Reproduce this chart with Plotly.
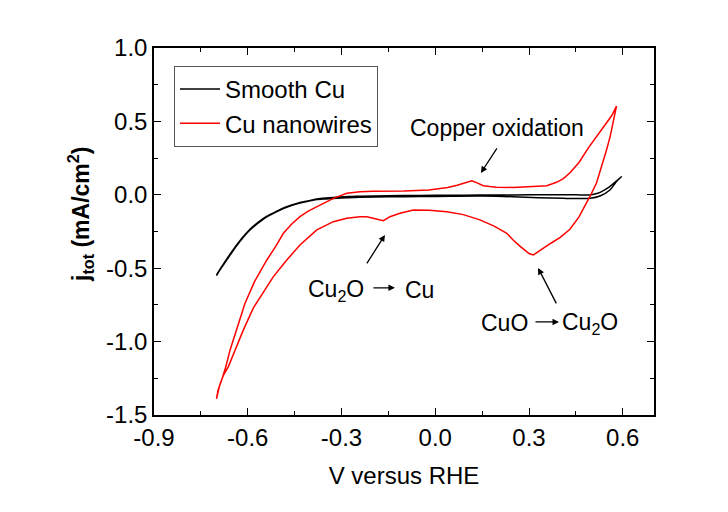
import plotly.graph_objects as go

# Smooth Cu (closed CV loop): from -0.70 V up to 0.59 V and back
smooth_v = [-0.70, -0.685, -0.665, -0.646, -0.62, -0.593, -0.565, -0.539, -0.51, -0.486, -0.46, -0.433,
            -0.40, -0.379, -0.35, -0.326, -0.28, -0.241, -0.15, -0.05, 0.05, 0.143, 0.25, 0.35, 0.45,
            0.495, 0.52, 0.538, 0.555, 0.575, 0.596,
            0.58, 0.559, 0.527, 0.495, 0.45, 0.409, 0.33, 0.249, 0.143, 0.05, -0.05, -0.15, -0.241,
            -0.28, -0.326, -0.35, -0.379, -0.40, -0.433, -0.46, -0.486, -0.51, -0.539, -0.565, -0.593,
            -0.62, -0.646, -0.665, -0.685, -0.70]
smooth_j = [-0.545, -0.495, -0.43, -0.372, -0.30, -0.235, -0.185, -0.146, -0.115, -0.09, -0.07, -0.052,
            -0.038, -0.029, -0.022, -0.018, -0.012, -0.01, -0.006, -0.004, -0.003, -0.002, -0.001, 0.0, 0.0,
            -0.001, 0.01, 0.028, 0.05, 0.085, 0.124,
            0.09, 0.033, -0.008, -0.024, -0.026, -0.024, -0.02, -0.013, -0.008, -0.01, -0.012, -0.014, -0.017,
            -0.02, -0.025, -0.028, -0.032, -0.04, -0.056, -0.073, -0.094, -0.118, -0.15, -0.19, -0.24,
            -0.305, -0.378, -0.437, -0.50, -0.55]

# Cu nanowires: anodic branch (left to right)
nw_anodic_v = [-0.70, -0.695, -0.683, -0.67, -0.657, -0.635, -0.609, -0.578, -0.56, -0.539, -0.51, -0.486,
               -0.46, -0.433, -0.405, -0.379, -0.35, -0.326, -0.283, -0.241, -0.20, -0.10, -0.02, 0.04,
               0.07, 0.10, 0.117, 0.132, 0.154, 0.175, 0.196, 0.25, 0.303, 0.357, 0.388, 0.41, 0.431,
               0.46, 0.49, 0.52, 0.549, 0.565, 0.58]
nw_anodic_j = [-1.39, -1.33, -1.26, -1.17, -1.06, -0.92, -0.74, -0.59, -0.52, -0.444, -0.35, -0.262,
               -0.20, -0.149, -0.11, -0.081, -0.05, -0.024, 0.01, 0.021, 0.025, 0.026, 0.033, 0.05,
               0.065, 0.085, 0.095, 0.083, 0.062, 0.056, 0.052, 0.05, 0.054, 0.062, 0.085, 0.11, 0.15,
               0.22, 0.32, 0.41, 0.49, 0.54, 0.605]
# Cu nanowires: cathodic branch (right to left)
nw_cathodic_v = [0.57, 0.56, 0.548, 0.532, 0.516, 0.50, 0.484, 0.46, 0.431, 0.40, 0.37, 0.343, 0.325, 0.314,
                 0.30, 0.285, 0.271, 0.25, 0.229, 0.19, 0.143, 0.09, 0.037, -0.02, -0.07, -0.113, -0.145,
                 -0.166, -0.187, -0.219, -0.241, -0.283, -0.326, -0.379, -0.433, -0.475, -0.518, -0.55,
                 -0.582, -0.614, -0.646, -0.662, -0.678, -0.689, -0.70]
nw_cathodic_j = [0.50, 0.40, 0.305, 0.19, 0.08, 0.01, -0.058, -0.15, -0.235, -0.29, -0.33, -0.37, -0.395,
                 -0.41, -0.40, -0.375, -0.35, -0.31, -0.262, -0.215, -0.171, -0.135, -0.115, -0.105, -0.103,
                 -0.126, -0.149, -0.176, -0.166, -0.149, -0.149, -0.16, -0.183, -0.239, -0.342, -0.444,
                 -0.557, -0.66, -0.77, -0.92, -1.079, -1.17, -1.23, -1.29, -1.39]

x_ticks = [-0.9, -0.6, -0.3, 0.0, 0.3, 0.6]
x_tick_labels = ["-0.9", "-0.6", "-0.3", "0.0", "0.3", "0.6"]
y_ticks = [-1.5, -1.0, -0.5, 0.0, 0.5, 1.0]
y_tick_labels = ["-1.5", "-1.0", "-0.5", "0.0", "0.5", "1.0"]

FONT = "Liberation Sans, Arial, sans-serif"

fig = go.Figure()
fig.add_trace(go.Scatter(x=smooth_v, y=smooth_j, mode="lines", name="Smooth Cu",
                         line=dict(color="black", width=1.5, shape="spline", smoothing=0.6)))
fig.add_trace(go.Scatter(x=nw_anodic_v + nw_cathodic_v, y=nw_anodic_j + nw_cathodic_j, mode="lines",
                         name="Cu nanowires", line=dict(color="#ff0000", width=1.5)))

axis_common = dict(showline=True, linecolor="black", linewidth=1.5, mirror="allticks",
                   ticks="inside", ticklen=7, tickwidth=1.2, tickcolor="black",
                   showgrid=False, zeroline=False,
                   tickfont=dict(family=FONT, size=24, color="black"))

fig.update_layout(
    width=728, height=512,
    margin=dict(l=146, r=82, t=40, b=105),
    paper_bgcolor="white", plot_bgcolor="white",
    font=dict(family=FONT, color="black"),
    xaxis=dict(range=[-0.9, 0.7], tickvals=x_ticks, ticktext=x_tick_labels,
               minor=dict(dtick=0.15, tick0=-0.9, ticks="inside", ticklen=4, tickcolor="black"),
               title=dict(text="V versus RHE", font=dict(family=FONT, size=24), standoff=18),
               **axis_common),
    yaxis=dict(range=[-1.5, 1.0], tickvals=y_ticks, ticktext=y_tick_labels,
               minor=dict(dtick=0.25, tick0=-1.5, ticks="inside", ticklen=4, tickcolor="black"),
               **axis_common),
    legend=dict(x=0.04, y=0.951, xanchor="left", yanchor="top", bordercolor="#555555",
                borderwidth=1, bgcolor="white", font=dict(family=FONT, size=24),
                tracegroupgap=0, itemwidth=40),
    showlegend=True,
)

ann_font = dict(family=FONT, size=23, color="black")
annotations = [
    # y-axis title
    dict(x=0, xref="paper", y=-0.137, yref="y", xshift=-92, textangle=-90,
         text="<b>j<sub>tot</sub> (mA/cm<sup>2</sup>)</b>", showarrow=False,
         font=dict(family=FONT, size=23, color="black")),
    dict(x=0.198, y=0.455, text="Copper oxidation", showarrow=False, font=ann_font),
    dict(x=0.146, y=0.149, ax=17, ay=-26, text="", showarrow=True, arrowhead=2, arrowsize=1,
         arrowwidth=1.3, arrowcolor="black"),
    dict(x=-0.318, y=-0.655, text="Cu<sub>2</sub>O", showarrow=False, font=ann_font),
    dict(x=-0.129, y=-0.634, ax=-23, ay=0, text="", showarrow=True, arrowhead=2, arrowsize=1,
         arrowwidth=1.3, arrowcolor="black"),
    dict(x=-0.052, y=-0.648, text="Cu", showarrow=False, font=ann_font),
    dict(x=-0.161, y=-0.273, ax=-19, ay=30, text="", showarrow=True, arrowhead=2, arrowsize=1,
         arrowwidth=1.3, arrowcolor="black"),
    dict(x=0.223, y=-0.873, text="CuO", showarrow=False, font=ann_font),
    dict(x=0.396, y=-0.866, ax=-25, ay=0, text="", showarrow=True, arrowhead=2, arrowsize=1,
         arrowwidth=1.3, arrowcolor="black"),
    dict(x=0.495, y=-0.880, text="Cu<sub>2</sub>O", showarrow=False, font=ann_font),
    dict(x=0.329, y=-0.498, ax=19, ay=37, text="", showarrow=True, arrowhead=2, arrowsize=1,
         arrowwidth=1.3, arrowcolor="black"),
]
for a in annotations:
    a.setdefault("xref", "x")
    a.setdefault("yref", "y")
    if a.get("showarrow"):
        a["axref"] = "pixel"
        a["ayref"] = "pixel"
fig.update_layout(annotations=annotations)

fig.write_html("out.html")
